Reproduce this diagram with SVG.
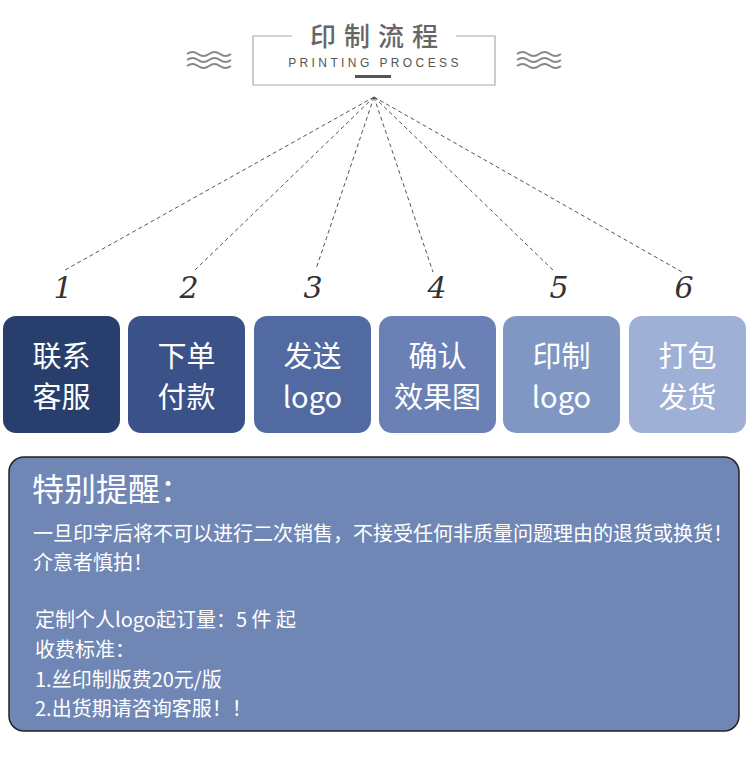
<svg xmlns="http://www.w3.org/2000/svg" width="750" height="762" viewBox="0 0 750 762">
<style>
.hd{font-family:"Noto Sans CJK SC","Noto Sans",sans-serif;}
.num{font-family:"DejaVu Serif","Liberation Serif",serif;font-style:italic;font-size:30px;fill:#333;text-anchor:middle;font-weight:300}
.bx{font-family:"Noto Sans CJK SC","Liberation Sans",sans-serif;font-size:29px;fill:#fff;text-anchor:middle}
.nt{font-family:"Noto Sans CJK SC","Liberation Sans",sans-serif;font-size:20px;fill:#fff}
.ttl{font-size:32px}
.wave{fill:none;stroke:#888;stroke-width:2}
.con{fill:none;stroke:#555;stroke-width:1;stroke-dasharray:4 3}
</style>
<rect width="750" height="762" fill="#fff"/>
<g id="header">
  <path d="M292 36 H253 V85 H495 V36 H456" fill="none" stroke="#aaa" stroke-width="1.2"/>
  <text x="378" y="46" class="hd" font-size="26" font-weight="500" fill="#666" text-anchor="middle" letter-spacing="8">印制流程</text>
  <text x="375" y="67" font-family="Liberation Sans,sans-serif" font-size="12" fill="#555" text-anchor="middle" letter-spacing="3.4">PRINTING PROCESS</text>
  <rect x="355" y="75" width="36" height="3" fill="#555"/>
  <g id="wave-left">
    <path class="wave" d="M187 54 q5.5 -4 11 0 t11 0 t11 0 t11 0"/>
    <path class="wave" d="M187 60 q5.5 -4 11 0 t11 0 t11 0 t11 0"/>
    <path class="wave" d="M187 66 q5.5 -4 11 0 t11 0 t11 0 t11 0"/>
  </g>
  <g id="wave-right">
    <path class="wave" d="M517 54 q5.5 -4 11 0 t11 0 t11 0 t11 0"/>
    <path class="wave" d="M517 60 q5.5 -4 11 0 t11 0 t11 0 t11 0"/>
    <path class="wave" d="M517 66 q5.5 -4 11 0 t11 0 t11 0 t11 0"/>
  </g>
</g>
<g id="connectors">
  <line class="con" x1="374" y1="97" x2="65" y2="270"/>
  <line class="con" x1="374" y1="97" x2="195" y2="270"/>
  <line class="con" x1="374" y1="97" x2="316" y2="269"/>
  <line class="con" x1="374" y1="97" x2="433" y2="272"/>
  <line class="con" x1="374" y1="97" x2="555" y2="272"/>
  <line class="con" x1="374" y1="97" x2="682" y2="272"/>
</g>
<g id="step1">
  <text x="63" y="298" class="num">1</text>
  <rect x="3" y="316" width="117" height="117" rx="13" fill="#283e6c"/>
  <text x="61.5" y="367" class="bx">联系</text>
  <text x="61.5" y="408" class="bx">客服</text>
</g>
<g id="step2">
  <text x="189" y="298" class="num">2</text>
  <rect x="128" y="316" width="117" height="117" rx="13" fill="#3a5288"/>
  <text x="186.5" y="367" class="bx">下单</text>
  <text x="186.5" y="408" class="bx">付款</text>
</g>
<g id="step3">
  <text x="313" y="298" class="num">3</text>
  <rect x="254" y="316" width="117" height="117" rx="13" fill="#516aa2"/>
  <text x="312.5" y="367" class="bx">发送</text>
  <text x="312.5" y="408" class="bx">logo</text>
</g>
<g id="step4">
  <text x="437" y="298" class="num">4</text>
  <rect x="379" y="316" width="117" height="117" rx="13" fill="#6b80b4"/>
  <text x="437.5" y="367" class="bx">确认</text>
  <text x="437.5" y="408" class="bx">效果图</text>
</g>
<g id="step5">
  <text x="559" y="298" class="num">5</text>
  <rect x="503" y="316" width="117" height="117" rx="13" fill="#8197c3"/>
  <text x="561.5" y="367" class="bx">印制</text>
  <text x="561.5" y="408" class="bx">logo</text>
</g>
<g id="step6">
  <text x="684" y="298" class="num">6</text>
  <rect x="629" y="316" width="117" height="117" rx="13" fill="#9fb0d6"/>
  <text x="687.5" y="367" class="bx">打包</text>
  <text x="687.5" y="408" class="bx">发货</text>
</g>
<g id="notice">
  <rect x="9" y="457" width="730" height="274" rx="15" fill="#7087b6" stroke="#222" stroke-width="1.5"/>
  <text x="32" y="501" class="nt ttl">特别提醒：</text>
  <text x="33" y="541" class="nt">一旦印字后将不可以进行二次销售，不接受任何非质量问题理由的退货或换货！</text>
  <text x="33" y="570" class="nt">介意者慎拍！</text>
  <text x="35" y="627" class="nt">定制个人logo起订量：5 件 起</text>
  <text x="35" y="657" class="nt">收费标准：</text>
  <text x="35" y="687" class="nt">1.丝印制版费20元/版</text>
  <text x="35" y="716" class="nt">2.出货期请咨询客服！！</text>
</g>
</svg>
